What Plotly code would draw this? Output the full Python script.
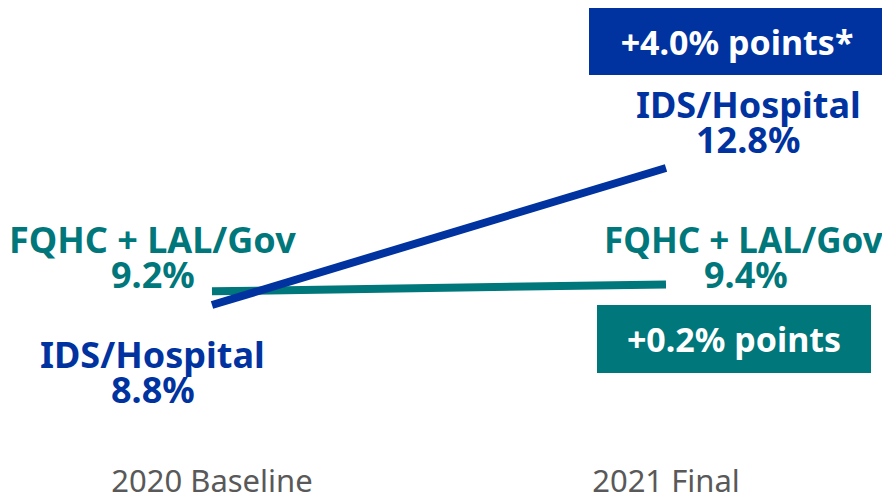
import plotly.graph_objects as go

periods = ["2020 Baseline", "2021 Final"]
ids_hospital = [8.8, 12.8]
fqhc_lal_gov = [9.2, 9.4]
ids_change = "+4.0% points*"
fqhc_change = "+0.2% points"

BLUE = "#0033a0"
TEAL = "#00777a"
GRAY = "#595959"
FONT = "Source Sans Pro, Noto Sans, sans-serif"

fig = go.Figure()
x = [0, 1]
fig.add_trace(go.Scatter(x=x, y=fqhc_lal_gov, mode="lines", line=dict(color=TEAL, width=8),
                         name="FQHC + LAL/Gov"))
fig.add_trace(go.Scatter(x=x, y=ids_hospital, mode="lines", line=dict(color=BLUE, width=8),
                         name="IDS/Hospital"))


def label(xpos, ypos, text, color, size=36):
    fig.add_annotation(x=xpos, y=ypos, xref="x", yref="y", text=f"<b>{text}</b>", showarrow=False,
                       font=dict(family=FONT, size=size, color=color), xanchor="center", yanchor="middle")


# left side labels
label(-0.130, 10.698, "FQHC + LAL/Gov", TEAL)
label(-0.130, 9.676, f"{fqhc_lal_gov[0]:.1f}%", TEAL)
label(-0.130, 7.341, "IDS/Hospital", BLUE)
label(-0.130, 6.319, f"{ids_hospital[0]:.1f}%", BLUE)
# right side labels
label(1.181, 14.640, "IDS/Hospital", BLUE)
label(1.181, 13.618, f"{ids_hospital[1]:.1f}%", BLUE)
label(1.170, 10.698, "FQHC + LAL/Gov", TEAL, size=35)
label(1.176, 9.676, f"{fqhc_lal_gov[1]:.1f}%", TEAL)

# change boxes
fig.add_annotation(x=1.156, y=16.494, xref="x", yref="y", text=f"<b>{ids_change}</b>", showarrow=False,
                   font=dict(family=FONT, size=34, color="white"), bgcolor=BLUE,
                   width=296, height=67, borderpad=0, borderwidth=0)
fig.add_annotation(x=1.150, y=7.808, xref="x", yref="y", text=f"<b>{fqhc_change}</b>", showarrow=False,
                   font=dict(family=FONT, size=34, color="white"), bgcolor=TEAL,
                   width=274, height=68, borderpad=0, borderwidth=0)

fig.update_xaxes(range=[-0.4493, 1.4934], tickvals=x, ticktext=periods, showgrid=False, zeroline=False,
                 showline=False, tickfont=dict(family=FONT, size=31, color=GRAY), ticks="",
                 ticklabelstandoff=10, automargin=False)
fig.update_yaxes(range=[4.566, 17.472], visible=False, automargin=False)
fig.update_layout(width=882, height=486, margin=dict(l=0, r=0, t=0, b=44),
                  plot_bgcolor="white", paper_bgcolor="white", showlegend=False)

fig.write_html("out.html")
